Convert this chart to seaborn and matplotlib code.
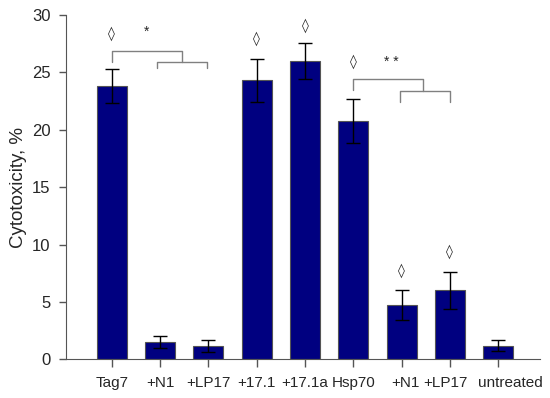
import matplotlib
matplotlib.use('Agg')
import pandas as pd
import matplotlib.pyplot as plt
import matplotlib.transforms as mtrans
import seaborn as sns

labels = ['Tag7', '+N1', '+LP17', '+17.1', '+17.1a', 'Hsp70', '+N1', '+LP17', 'untreated']
cytotox = [23.8, 1.5, 1.15, 24.3, 26.0, 20.75, 4.75, 6.0, 1.2]
errs = [1.5, 0.5, 0.55, 1.9, 1.6, 1.9, 1.3, 1.6, 0.45]
# diamonds: which bars, and at what height
diamond_idx = [0, 3, 4, 5, 6, 7]
diamond_y = [28.4, 27.9, 29.1, 25.9, 7.7, 9.35]

sns.set_style('ticks')
plt.rcParams['font.family'] = ['Liberation Sans', 'DejaVu Sans']

df = pd.DataFrame({'group': [str(i) for i in range(len(labels))], 'val': cytotox})

fig = plt.figure(figsize=(5.5, 3.98), dpi=100)
ax = fig.add_axes([0.12, 0.0972, 0.862, 0.865])
sns.barplot(data=df, x='group', y='val', color='#000080', saturation=1,
            width=0.62, errorbar=None, edgecolor='#555555', linewidth=0.8, ax=ax)
ax.errorbar(range(len(labels)), cytotox, yerr=errs, fmt='none', ecolor='black',
            elinewidth=1, capsize=5, capthick=1)

for i, y in zip(diamond_idx, diamond_y):
    ax.text(i, y, '\u25CA', ha='center', va='center', fontsize=10, family=['DejaVu Sans'])

# significance brackets
br = dict(color='#808080', lw=1)
ax.plot([0, 0, 1.45, 1.45], [25.9, 26.9, 26.9, 25.9], **br)
ax.plot([0.93, 0.93, 1.98, 1.98], [25.4, 25.9, 25.9, 25.4], **br)
ax.text(0.72, 28.5, '*', ha='center', va='center', fontsize=10)
ax.plot([5, 5, 6.45, 6.45], [23.5, 24.45, 24.45, 23.4], **br)
ax.plot([5.96, 5.96, 7.0, 7.0], [22.4, 23.4, 23.4, 22.4], **br)
ax.text(5.79, 25.9, '* *', ha='center', va='center', fontsize=10)

ax.set_xlim(-0.95, 8.87)
ax.set_ylim(0, 30)
ax.set_yticks([0, 5, 10, 15, 20, 25, 30])
ax.set_xticks(range(len(labels)))
ax.set_xticklabels(labels)
ax.set_xlabel('')
ax.set_ylabel('Cytotoxicity, %', fontsize=13.5, labelpad=4)
ax.tick_params(direction='out', length=5, color='#555555', width=1)
ax.tick_params(axis='y', labelsize=12, pad=6)
ax.tick_params(axis='x', labelsize=11, length=6, pad=6)
# nudge the crowded right-hand labels as in the original
nudges = {6: 0.04, 7: -0.04, 8: 0.12}
for i, lab in enumerate(ax.get_xticklabels()):
    if i in nudges:
        lab.set_transform(lab.get_transform() +
                          mtrans.ScaledTranslation(nudges[i], 0, fig.dpi_scale_trans))
for s in ['left', 'bottom']:
    ax.spines[s].set_color('#555555')
sns.despine(ax=ax)

fig.savefig('out.png', dpi=100)
